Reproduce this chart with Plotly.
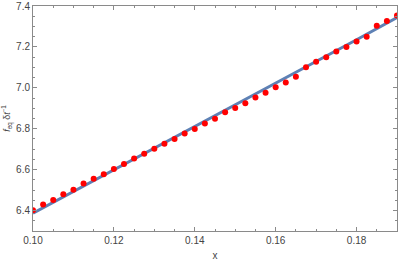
import plotly.graph_objects as go

# data points (red dots)
x_pts = [0.1000, 0.1025, 0.1050, 0.1075, 0.1100, 0.1125, 0.1150, 0.1175, 0.1200, 0.1225,
         0.1250, 0.1275, 0.1300, 0.1325, 0.1350, 0.1375, 0.1400, 0.1425, 0.1450, 0.1475,
         0.1500, 0.1525, 0.1550, 0.1575, 0.1600, 0.1625, 0.1650, 0.1675, 0.1700, 0.1725,
         0.1750, 0.1775, 0.1800, 0.1825, 0.1850, 0.1875, 0.1900]
y_pts = [6.401, 6.429, 6.452, 6.480, 6.502, 6.532, 6.555, 6.577, 6.603, 6.627,
         6.654, 6.678, 6.702, 6.727, 6.750, 6.777, 6.799, 6.826, 6.849, 6.880,
         6.901, 6.925, 6.953, 6.976, 7.003, 7.026, 7.054, 7.101, 7.127, 7.150,
         7.177, 7.200, 7.226, 7.250, 7.304, 7.327, 7.353]

# fitted line (blue)
x_line = [0.10, 0.12, 0.14, 0.16, 0.18, 0.19]
y_line = [6.387, 6.598, 6.811, 7.023, 7.235, 7.343]

x_ticks = [0.10, 0.12, 0.14, 0.16, 0.18]
x_ticklabels = ["0.10", "0.12", "0.14", "0.16", "0.18"]
y_ticks = [6.4, 6.6, 6.8, 7.0, 7.2, 7.4]
y_ticklabels = ["6.4", "6.6", "6.8", "7.0", "7.2", "7.4"]

FONT = "Liberation Sans"

fig = go.Figure()
fig.add_trace(go.Scatter(x=x_line, y=y_line, mode="lines",
                         line=dict(color="#5E81B5", width=3), hoverinfo="skip"))
fig.add_trace(go.Scatter(x=x_pts, y=y_pts, mode="markers",
                         marker=dict(color="#FF0000", size=6, line=dict(width=0)),
                         cliponaxis=True))

axis_common = dict(
    showgrid=False, zeroline=False, showline=True, linecolor="#8a8a8a", linewidth=1,
    mirror="allticks", ticks="inside", tickcolor="#8a8a8a", ticklen=4, tickwidth=1,
    tickfont=dict(family=FONT, size=10, color="#444444"), automargin=False,
)

fig.update_xaxes(range=[0.10, 0.19], tickvals=x_ticks, ticktext=x_ticklabels,
                 minor=dict(dtick=0.005, tick0=0.10, ticks="inside", ticklen=2,
                            tickcolor="#8a8a8a", showgrid=False),
                 title=dict(text="x", standoff=6,
                            font=dict(family=FONT, size=10, color="#444444")),
                 **axis_common)
fig.update_yaxes(range=[6.3, 7.4], tickvals=y_ticks, ticktext=y_ticklabels,
                 minor=dict(dtick=0.05, tick0=6.3, ticks="inside", ticklen=2,
                            tickcolor="#8a8a8a", showgrid=False),
                 title=dict(text="<i>f</i><sub>eq</sub> δ<i>t</i><sup>−1</sup>", standoff=4,
                            font=dict(family=FONT, size=9, color="#444444")),
                 **axis_common)

fig.update_layout(width=399, height=263, margin=dict(l=33, r=2, t=6, b=32, pad=0),
                  plot_bgcolor="white", paper_bgcolor="white", showlegend=False,
                  font=dict(family=FONT))

fig.write_html("out.html", config={"displayModeBar": False},
               post_script="document.body.style.margin='0';document.body.style.padding='0';")
